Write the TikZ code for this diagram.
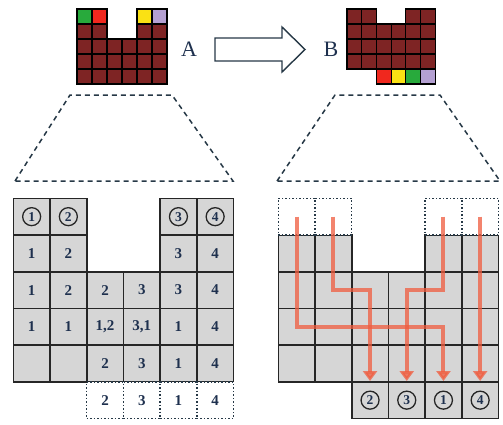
\documentclass[tikz,border=0pt]{standalone}
\usepackage{fontspec}
\setmainfont{Liberation Serif}
\usetikzlibrary{arrows.meta}
\definecolor{brick}{RGB}{126,36,36}
\definecolor{cellgray}{RGB}{214,214,214}
\definecolor{inkblue}{RGB}{30,48,78}
\definecolor{slate}{RGB}{38,56,70}
\definecolor{flow}{RGB}{240,92,62}
\definecolor{tgreen}{RGB}{40,170,60}
\definecolor{tred}{RGB}{240,40,30}
\definecolor{tyellow}{RGB}{250,225,20}
\definecolor{tlav}{RGB}{180,160,210}
\begin{document}
\begin{tikzpicture}[x=1pt,y=-1pt,
  sq/.style={draw=black, line width=1.2pt, fill=brick, minimum size=15pt, inner sep=0pt},
  cell/.style={draw=black!85, line width=1.6pt, fill=cellgray, minimum size=36.7pt, inner sep=0pt, text=inkblue, font=\bfseries\fontsize{15}{15}\selectfont},
  ghost/.style={draw=slate, dotted, line width=1.5pt, fill=white, minimum size=36.7pt, inner sep=0pt, text=inkblue, font=\bfseries\fontsize{15}{15}\selectfont},
  circnum/.style={circle, draw=black!85, line width=1.3pt, minimum size=18pt, inner sep=0pt, text=inkblue, font=\bfseries\fontsize{13.5}{13.5}\selectfont},
  zoomline/.style={draw=slate, line width=1.5pt, dash pattern=on 5pt off 4pt},
  flowline/.style={draw=flow, line width=4pt, opacity=0.75, -{Triangle[width=14pt,length=10pt]}}]
\useasboundingbox (0,0) rectangle (503,424);

\begin{scope}[shift={(77,9)}, x=15pt, y=-15pt]
\foreach \r/\c/\f in {1/1/tgreen,1/2/tred,1/5/tyellow,1/6/tlav,2/1/brick,2/2/brick,2/5/brick,2/6/brick}
  \node[sq, fill=\f] (a\r\c) at (\c-0.5,\r-0.5) {};
\foreach \r in {3,4,5}
  \foreach \c in {1,...,6}
    \node[sq] (a\r\c) at (\c-0.5,\r-0.5) {};
\end{scope}
\node[font=\fontsize{22}{22}\selectfont, text=inkblue] (labA) at (189,49) {A};

\draw[slate, line width=1.4pt] (215,38) -- (282,38) -- (282,27) -- (305,49.5) -- (282,72) -- (282,61) -- (215,61) -- cycle;

\node[font=\fontsize{22}{22}\selectfont, text=inkblue] (labB) at (331,49) {B};
\begin{scope}[shift={(347,9)}, x=14.7pt, y=-15pt]
\foreach \c in {1,2,5,6}
  \node[sq, minimum width=14.7pt] (b1\c) at (\c-0.5,0.5) {};
\foreach \r in {2,3,4}
  \foreach \c in {1,...,6}
    \node[sq, minimum width=14.7pt] (b\r\c) at (\c-0.5,\r-0.5) {};
\foreach \c/\f in {3/tred,4/tyellow,5/tgreen,6/tlav}
  \node[sq, minimum width=14.7pt, fill=\f] (b5\c) at (\c-0.5,4.5) {};
\end{scope}

\draw[zoomline] (15,181) -- (70,95) -- (172,95) -- (233,181) -- cycle;
\draw[zoomline] (277,181) -- (335,95) -- (440,95) -- (500,181) -- cycle;

\begin{scope}[shift={(13.3,198.3)}, x=36.7pt, y=-36.7pt]
\foreach \r/\c/\t in {1/1/{},1/2/{},1/5/{},1/6/{},2/1/1,2/2/2,2/5/3,2/6/4,
  3/1/1,3/2/2,3/3/2,3/4/3,3/5/3,3/6/4,
  4/1/1,4/2/1,4/3/{1,2},4/4/{3,1},4/5/1,4/6/4,
  5/1/{},5/2/{},5/3/2,5/4/3,5/5/1,5/6/4}
  \node[cell] (l\r\c) at (\c-0.5,\r-0.5) {\t};
\foreach \c/\t in {3/2,4/3,5/1,6/4}
  \node[ghost] (l6\c) at (\c-0.5,5.5) {\t};
\end{scope}
\foreach \c/\n in {1/1,2/2,5/3,6/4}
  \node[circnum] (lc\n) at (l1\c) {\n};

\begin{scope}[shift={(278.3,198.3)}, x=36.7pt, y=-36.7pt]
\foreach \c in {1,2,5,6}
  \node[cell] (r2\c) at (\c-0.5,1.5) {};
\foreach \r in {3,4,5}
  \foreach \c in {1,...,6}
    \node[cell] (r\r\c) at (\c-0.5,\r-0.5) {};
\foreach \c in {3,...,6}
  \node[cell] (r6\c) at (\c-0.5,5.5) {};
\foreach \c in {1,2,5,6}
  \node[ghost] (r1\c) at (\c-0.5,0.5) {};
\end{scope}
\foreach \c/\n in {3/2,4/3,5/1,6/4}
  \node[circnum] (rc\n) at (r6\c) {\n};

\draw[flowline] (r11.center) |- (r45.center) -- (r65.north);
\draw[flowline] (r12.center) |- (r33.center) -- (r63.north);
\draw[flowline] (r15.center) |- (r34.center) -- (r64.north);
\draw[flowline] (r16.center) -- (r66.north);
\end{tikzpicture}
\end{document}
